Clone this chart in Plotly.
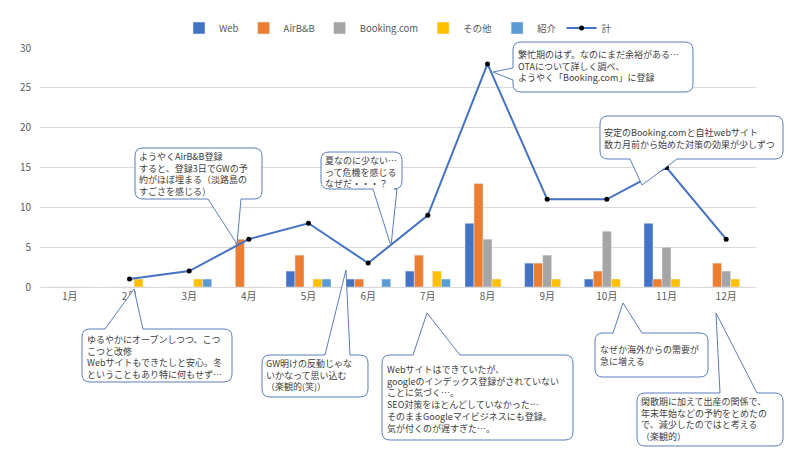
import plotly.graph_objects as go

# ---------------- data ----------------
months = ["1月", "2月", "3月", "4月", "5月", "6月", "7月", "8月", "9月", "10月", "11月", "12月"]
web = [0, 0, 0, 0, 2, 1, 2, 8, 3, 1, 8, 0]
airbnb = [0, 0, 0, 6, 4, 1, 4, 13, 3, 2, 1, 3]
booking = [0, 0, 0, 0, 0, 0, 0, 6, 4, 7, 5, 2]
other = [0, 1, 1, 0, 1, 0, 2, 1, 1, 1, 1, 1]
referral = [0, 0, 1, 0, 1, 1, 1, 0, 0, 0, 0, 0]
total = [None, 1, 2, 6, 8, 3, 9, 28, 11, 11, 15, 6]
y_ticks = [0, 5, 10, 15, 20, 25, 30]

# callout texts
c1 = ["ゆるやかにオープンしつつ、こつ", "こつと改修", "Webサイトもできたしと安心。冬", "ということもあり特に何もせず…"]
c2 = ["ようやくAirB&B登録", "すると、登録3日でGWの予", "約がほぼ埋まる（淡路島の", "すごさを感じる）"]
c3 = ["夏なのに少ない…", "って危機を感じる", "なぜだ・・・？"]
c4 = ["繁忙期のはず。なのにまだ余裕がある…", "OTAについて詳しく調べ、", "ようやく「Booking.com」に登録"]
c5 = ["安定のBooking.comと自社webサイト", "数カ月前から始めた対策の効果が少しずつ"]
c6 = ["GW明けの反動じゃな", "いかなって思い込む", "（楽観的(笑)）"]
c7 = ["Webサイトはできていたが、", "googleのインデックス登録がされていない", "ことに気づく…。",
      "SEO対策をほとんどしていなかった…", "そのままGoogleマイビジネスにも登録。", "気が付くのが遅すぎた…。"]
c8 = ["なぜか海外からの需要が", "急に増える"]
c9 = ["閑散期に加えて出産の関係で、", "年末年始などの予約をとめたの", "で、減少したのではと考える", "（楽観的）"]

# ---------------- figure ----------------
FONT = "Noto Sans CJK JP, Noto Sans, sans-serif"
L, T, W, H = 40, 48, 716, 239

fig = go.Figure()
series = [("Web", web, "#4472C4"), ("AirB&B", airbnb, "#ED7D31"),
          ("Booking.com", booking, "#A5A5A5"), ("その他", other, "#FFC000"),
          ("紹介", referral, "#5B9BD5")]
for name, vals, col in series:
    fig.add_trace(go.Bar(x=months, y=vals, name=name, marker_color=col))
fig.add_trace(go.Scatter(x=months, y=total, name="計", mode="lines+markers",
                         line=dict(color="#4472C4", width=2),
                         marker=dict(color="#000000", size=5),
                         connectgaps=False))


def px(x):
    return (x - L) / W


def py(y):
    return (T + H - y) / H


def bubble(x0, y0, x1, y1, side, a, b, tip, r=8):
    pts = []
    pts.append(("M", (x0 + r, y0)))
    if side == "top":
        pts += [("L", (a, y0)), ("L", tip), ("L", (b, y0))]
    pts.append(("L", (x1 - r, y0)))
    pts.append(("Q", (x1, y0), (x1, y0 + r)))
    pts.append(("L", (x1, y1 - r)))
    pts.append(("Q", (x1, y1), (x1 - r, y1)))
    if side == "bottom":
        pts += [("L", (b, y1)), ("L", tip), ("L", (a, y1))]
    pts.append(("L", (x0 + r, y1)))
    pts.append(("Q", (x0, y1), (x0, y1 - r)))
    if side == "left":
        pts += [("L", (x0, b)), ("L", tip), ("L", (x0, a))]
    pts.append(("L", (x0, y0 + r)))
    pts.append(("Q", (x0, y0), (x0 + r, y0)))
    s = ""
    for p in pts:
        cmd = p[0]
        coords = " ".join(f"{px(q[0]):.5f},{py(q[1]):.5f}" for q in p[1:])
        s += f"{cmd}{coords} "
    s += "Z"
    fig.add_shape(type="path", path=s, xref="paper", yref="paper",
                  fillcolor="white", line=dict(color="#5B7DBD", width=1), layer="above")


def text_block(lines, x, y_center, size=9):
    fig.add_annotation(text="<br>".join(lines), x=px(x), y=py(y_center), xref="paper", yref="paper",
                       xanchor="left", yanchor="middle", align="left", showarrow=False, borderpad=0,
                       font=dict(family=FONT, size=size, color="#404040"))


callouts = [
    (c1, (82, 329, 232, 382), "top", 105, 143, (134, 289), 86, 357),
    (c2, (135, 148, 262, 199), "bottom", 208, 241, (237, 244), 138, 173.5),
    (c3, (321, 152, 402, 189), "bottom", 373, 397, (391, 246), 324, 172),
    (c4, (513, 42, 693, 92), "left", 68, 80, (493, 72), 517, 65.5),
    (c5, (600, 116, 783, 159), "bottom", 630, 677, (642, 185), 603, 138),
    (c6, (262, 355, 368, 397), "top", 325, 350, (346, 270), 265, 375),
    (c7, (382, 355, 573, 440), "top", 413, 460, (427, 313), 386, 399),
    (c8, (595, 333, 708, 377), "top", 613, 642, (623, 303), 599, 355.5),
    (c9, (637, 393, 783, 446), "top", 720, 757, (716, 313), 640, 419.5),
]
for lines, (bx0, by0, bx1, by1), side, a, b, tip, tx, ty in callouts:
    bubble(bx0, by0, bx1, by1, side, a, b, tip)
    text_block(lines, tx, ty)

fig.update_layout(
    width=800, height=450,
    margin=dict(l=L, r=800 - L - W, t=T, b=450 - T - H, autoexpand=False),
    paper_bgcolor="white", plot_bgcolor="white",
    barmode="group", bargap=0.245, bargroupgap=0,
    font=dict(family=FONT, size=10, color="#595959"),
    legend=dict(orientation="h", x=0.5, xanchor="center", y=py(28), yanchor="middle",
                font=dict(family=FONT, size=9.5, color="#595959"),
                itemwidth=30, tracegroupgap=0, bgcolor="rgba(0,0,0,0)"),
    showlegend=True,
)
fig.update_xaxes(type="category", range=[-0.5, len(months) - 0.5], autorange=False,
                 showgrid=False, showline=True, linecolor="#D9D9D9",
                 ticks="", tickfont=dict(size=10, color="#595959"), automargin=False)
fig.update_yaxes(range=[0, 30], tickvals=y_ticks, showgrid=True, gridcolor="#D9D9D9",
                 zeroline=False, showline=False, ticks="", ticklabelstandoff=8,
                 tickfont=dict(size=10, color="#595959"), automargin=False)

fig.write_html("out.html", config={"displayModeBar": False},
               post_script="document.body.style.margin='0';")
